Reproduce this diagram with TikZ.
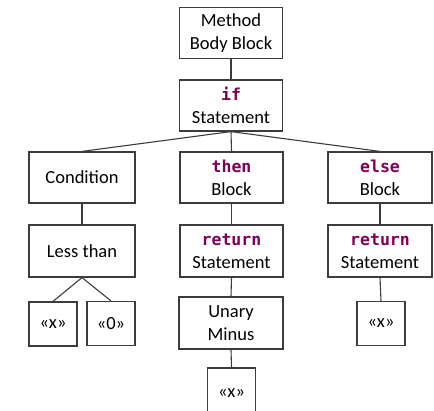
\documentclass[tikz,border=0pt]{standalone}
\usepackage{fontspec}
\setmainfont{Carlito}
\setmonofont{DejaVu Sans Mono}
\definecolor{kw}{RGB}{127,0,85}
\definecolor{edge}{RGB}{60,60,60}
\newcommand{\kwd}[1]{{\fontsize{16.5}{23}\selectfont\ttfamily\bfseries\color{kw}#1}}
\begin{document}
\begin{tikzpicture}[x=1pt,y=-1pt,
  box/.style={draw=edge,line width=1.2pt,rectangle,inner sep=0pt,align=center,
    font=\fontsize{18.5}{23}\selectfont},
  wide/.style={box,minimum width=103pt,minimum height=51pt},
  small/.style={box,minimum width=48pt,minimum height=44pt},
  link/.style={draw=edge,line width=1.1pt}]
\useasboundingbox (0,0) rectangle (434,410);
\clip (0,0) rectangle (434,410);
\node[wide] (mbb) at (231,33) {Method\\Body Block};
\node[wide] (ifs) at (231,105.5) {\kwd{if}\\Statement};
\node[wide,minimum width=106pt] (cond) at (82,177.5) {Condition};
\node[wide] (thn) at (231.5,177.5) {\kwd{then}\\Block};
\node[wide,minimum width=104pt] (els) at (380,177.5) {\kwd{else}\\Block};
\node[wide,minimum width=106pt,minimum height=52pt] (less) at (82,251) {Less than};
\node[wide,minimum height=52pt] (ret1) at (231.5,251) {\kwd{return}\\Statement};
\node[wide,minimum width=104pt,minimum height=52pt] (ret2) at (380,251) {\kwd{return}\\Statement};
\node[small] (vx1) at (53,324) {«x»};
\node[small] (vzero) at (111,323.5) {«0»};
\node[wide,minimum width=104pt,minimum height=52pt] (unary) at (231,323) {Unary\\Minus};
\node[small] (vx3) at (381,323.5) {«x»};
\node[small,minimum height=50pt] (vx2) at (231.5,393) {«x»};
\path[link] (mbb.south) -- (ifs.north);
\path[link] (ifs.south) -- (cond.north);
\path[link] (ifs.south) -- (thn.north);
\path[link] (ifs.south) -- (els.north);
\path[link] (cond.south) -- (less.north);
\path[link] (thn.south) -- (ret1.north);
\path[link] (els.south) -- (ret2.north);
\path[link] (less.south) -- (vx1.north);
\path[link] (less.south) -- (vzero.north);
\path[link] (ret1.south) -- (unary.north);
\path[link] (ret2.south) -- (vx3.north);
\path[link] (unary.south) -- (vx2.north);
\end{tikzpicture}
\end{document}
